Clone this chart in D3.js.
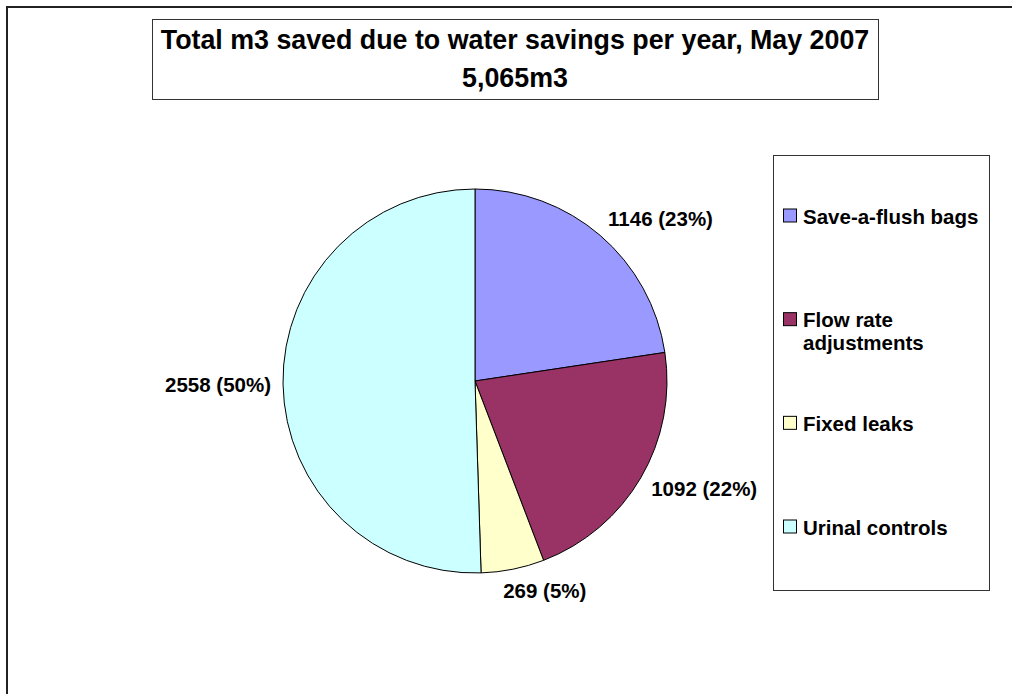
<!DOCTYPE html>
<html>
<head>
<meta charset="utf-8">
<script src="https://cdn.jsdelivr.net/npm/d3@7"></script>
<style>
  html, body { margin: 0; padding: 0; background: #fff; }
  svg { display: block; font-family: "Liberation Sans", Arial, sans-serif; font-weight: bold; }
</style>
</head>
<body>
<div id="chart"></div>
<script>
// chart data
const categories = ['Save-a-flush bags', 'Flow rate adjustments', 'Fixed leaks', 'Urinal controls'];
const legendLines = [['Save-a-flush bags'], ['Flow rate', 'adjustments'], ['Fixed leaks'], ['Urinal controls']];
const values = [1146, 1092, 269, 2558];
const percents = ['23%', '22%', '5%', '50%'];
const colors = ['#9999FF', '#993366', '#FFFFCC', '#CCFFFF'];
const titleLines = ['Total m3 saved due to water savings per year, May 2007', '5,065m3'];

const width = 1012;
const height = 694;

const svg = d3.select('#chart')
  .append('svg')
  .attr('width', width)
  .attr('height', height);

// outer chart border (runs off the page right/bottom)
svg.append('rect')
  .attr('x', 7).attr('y', 7)
  .attr('width', 1100).attr('height', 800)
  .attr('fill', '#fff')
  .attr('stroke', '#222')
  .attr('stroke-width', 2);

// title box
const title = { x: 152, y: 19, w: 726, h: 80 };
svg.append('rect')
  .attr('x', title.x + 0.5).attr('y', title.y + 0.5)
  .attr('width', title.w).attr('height', title.h)
  .attr('fill', '#fff')
  .attr('stroke', '#333');

svg.append('g')
  .selectAll('text')
  .data(titleLines)
  .join('text')
  .attr('x', title.x + title.w / 2)
  .attr('y', (d, i) => title.y + 30 + i * 38)
  .attr('text-anchor', 'middle')
  .attr('font-size', '26.8px')
  .attr('fill', '#000')
  .text(d => d);

// pie
const cx = 475, cy = 381, radius = 192;
const color = d3.scaleOrdinal().domain(categories).range(colors);

const pie = d3.pie().sort(null).value(d => d.value);
const rows = categories.map((c, i) => ({ name: c, value: values[i], pct: percents[i] }));
const arcs = pie(rows);
const arc = d3.arc().innerRadius(0).outerRadius(radius);

const g = svg.append('g').attr('transform', `translate(${cx},${cy})`);

g.selectAll('path')
  .data(arcs)
  .join('path')
  .attr('d', arc)
  .attr('fill', d => color(d.data.name))
  .attr('stroke', '#000')
  .attr('stroke-width', 1);

// data labels outside the pie
const labelFont = 20.5;
const labelOffset = 12;
const labels = g.selectAll('text.lbl')
  .data(arcs)
  .join('text')
  .attr('class', 'lbl')
  .attr('font-size', labelFont + 'px')
  .attr('fill', '#000')
  .attr('text-anchor', 'middle')
  .text(d => `${d.data.value} (${d.data.pct})`);

labels.each(function (d) {
  const t = d3.select(this);
  const w = this.getComputedTextLength();
  const h = labelFont;
  const a = (d.startAngle + d.endAngle) / 2;
  const s = Math.sin(a), c = Math.cos(a);
  const r = radius + labelOffset;
  const k = Math.max(-1, Math.min(1, s * 3.6));
  const x = r * s + k * w / 2;
  const y = -r * c - c * h / 2;
  t.attr('x', x).attr('y', y).attr('dy', '0.36em');
});

// legend
const legend = { x: 773, y: 155, w: 216, h: 435 };
svg.append('rect')
  .attr('x', legend.x + 0.5).attr('y', legend.y + 0.5)
  .attr('width', legend.w).attr('height', legend.h)
  .attr('fill', '#fff')
  .attr('stroke', '#333');

const ly = d3.scalePoint().domain(categories).range([216, 527]);

const items = svg.append('g')
  .selectAll('g')
  .data(categories)
  .join('g')
  .attr('transform', d => `translate(${legend.x + 10},${ly(d)})`);

items.append('rect')
  .attr('x', 0.5).attr('y', -7)
  .attr('width', 13).attr('height', 13)
  .attr('fill', d => color(d))
  .attr('stroke', '#000');

items.append('text')
  .attr('font-size', labelFont + 'px')
  .attr('fill', '#000')
  .selectAll('tspan')
  .data((d, i) => legendLines[i])
  .join('tspan')
  .attr('x', 20)
  .attr('y', (d, i) => 7.5 + i * 23)
  .text(d => d);
</script>
</body>
</html>
